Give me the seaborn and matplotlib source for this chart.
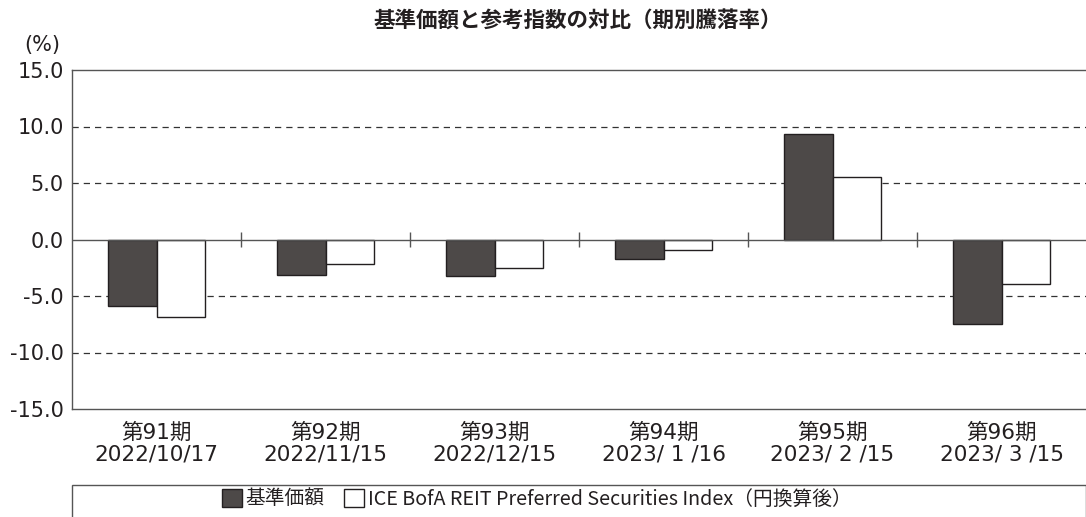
import numpy as np
import pandas as pd
import seaborn as sns
import matplotlib.pyplot as plt
from matplotlib.patches import Rectangle

# period labels and returns (%)
periods = ['第91期\n2022/10/17', '第92期\n2022/11/15', '第93期\n2022/12/15',
           '第94期\n2023/ 1 /16', '第95期\n2023/ 2 /15', '第96期\n2023/ 3 /15']
fund = [-5.9, -3.1, -3.2, -1.7, 9.3, -7.5]
index_ret = [-6.9, -2.2, -2.5, -0.9, 5.5, -3.9]
series_names = ['基準価額', 'ICE BofA REIT Preferred Securities Index（円換算後）']
y_ticks = [15.0, 10.0, 5.0, 0.0, -5.0, -10.0, -15.0]

df = pd.DataFrame({
    'period': periods * 2,
    'value': fund + index_ret,
    'series': [series_names[0]] * len(periods) + [series_names[1]] * len(periods),
})

sns.set_style('white')
plt.rcParams['font.family'] = ['DejaVu Sans', 'Noto Sans CJK JP']
cjk = ['Noto Sans CJK JP', 'DejaVu Sans']
txt = '#231f20'

fig = plt.figure(figsize=(10.86, 5.17), dpi=100)
ax = fig.add_axes([72 / 1086, 1 - 409 / 517, 1 - 72 / 1086, (409 - 70) / 517])

sns.barplot(data=df, x='period', y='value', hue='series', order=periods,
            palette=['#4d4948', 'white'], edgecolor='#231f20', linewidth=1.0,
            width=0.57, saturation=1, legend=True, ax=ax)

ax.set_ylim(-15, 15)
ax.set_xlim(-0.5, 5.5)
ax.set_yticks(y_ticks)
ax.set_yticklabels([f'{t:.1f}' for t in y_ticks], fontsize=15, color=txt)
ax.set_xticks(range(len(periods)))
ax.set_xticklabels(periods, fontsize=15.5, color=txt, linespacing=1.1)
ax.tick_params(axis='x', length=0, pad=10)
ax.tick_params(axis='y', length=0, pad=6)
ax.set_xlabel('')
ax.set_ylabel('')

for v in [10, 5, -5, -10]:
    ax.axhline(v, color='#333333', lw=0.9, ls=(0, (5, 4)), zorder=0)
ax.axhline(0, color='#555555', lw=1.0, zorder=3)
ax.vlines(np.arange(0.5, 5.5, 1), -0.7, 0.7, color='#555555', lw=1.0, zorder=3)

for s in ['left', 'top', 'bottom']:
    ax.spines[s].set_color('#555555')
    ax.spines[s].set_linewidth(1.0)
ax.spines['right'].set_visible(False)

handles, labels = ax.get_legend_handles_labels()
ax.get_legend().remove()
fig.legend(handles, labels, loc='center', bbox_to_anchor=(537 / 1086, 1 - 499 / 517),
           ncol=2, frameon=False, prop={'family': cjk, 'size': 14.2},
           handlelength=1.0, handleheight=1.0,
           handletextpad=0.2, columnspacing=1.0, labelcolor=txt)
fig.patches.append(Rectangle((72 / 1086, -0.01), 1 - 72 / 1086, 0.01 + 32 / 517,
                             transform=fig.transFigure, fill=False,
                             edgecolor='#555555', lw=1.0))

fig.text(578 / 1086, 1 - 21 / 517, '基準価額と参考指数の対比（期別騰落率）',
         ha='center', va='center', fontsize=15.5, fontweight='bold',
         family=cjk, color=txt)
fig.text(42 / 1086, 1 - 45 / 517, '(%)', ha='center', va='center',
         fontsize=15, color=txt)

fig.savefig('out.png', dpi=100)
